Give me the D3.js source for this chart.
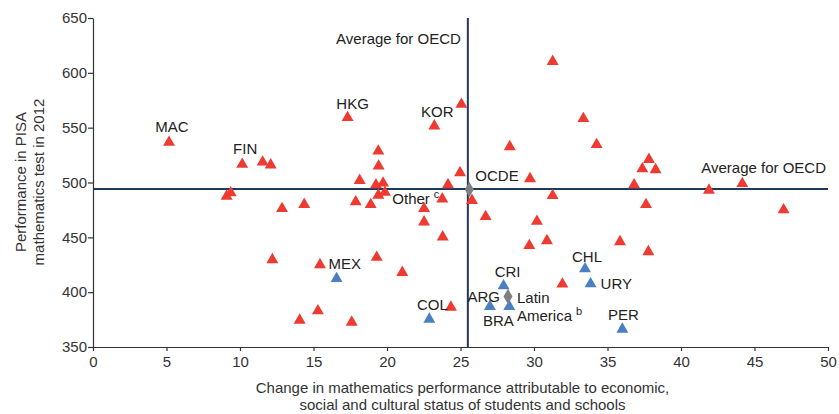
<!DOCTYPE html>
<html><head><meta charset="utf-8">
<script src="https://cdn.jsdelivr.net/npm/d3@7"></script>
<style>
body{margin:0;background:#fff;}
text{font-family:"Liberation Sans",Arial,sans-serif;}
</style></head>
<body><svg id="c" width="839" height="414"></svg>
<script>
// ---- data ----
const xTicks = [0,5,10,15,20,25,30,35,40,45,50];
const yTicks = [350,400,450,500,550,600,650];
const oecdAvgX = 25.5;
const oecdAvgY = 494;

// other economies (red triangles): [name, change, score]
const otherNames = ["MAC","FIN","","","","","","","","","","","HKG","KOR","","","","","","","","","","","","","","","","","","","","","","","","","","","","","","","","","","","","","","","","","",""];
const otherX = [5.17,10.15,11.54,12.09,9.09,9.37,12.86,14.37,12.2,15.44,15.3,14.06,17.32,23.22,25.06,31.27,28.35,19.41,19.43,24.97,29.73,18.14,19.25,19.73,24.15,19.41,19.86,17.87,18.89,23.76,25.78,31.27,22.52,26.71,22.52,30.2,23.79,29.68,30.88,19.3,21.04,31.93,24.35,17.6,33.36,34.26,37.82,37.37,38.27,36.81,41.9,44.17,37.62,46.98,35.85,37.78];
const otherY = [536.6,516.5,518.6,516,487.5,490.5,476.2,480,429.6,425,383,374.4,559.2,551.5,571.3,610.4,532.6,528.6,514.9,508.9,503.4,501.8,497.9,499.4,498,488.4,491,482.3,479.9,485,483.6,488,476.2,468.9,464,464.6,450.3,442.4,446.9,431.7,418,407.4,386.3,372.6,558.3,534.5,521,512.5,511.6,497.9,493,499,479.9,475,446,436.9];

// Latin American countries (blue triangles)
const latNames = ["MEX","COL","CRI","ARG","BRA","CHL","URY","PER"];
const latX = [16.57,22.88,27.93,27.0,28.32,33.47,33.85,36.01];
const latY = [412.4,375.3,405.8,386.9,386.9,421.3,407.6,366.2];

// group averages (grey diamonds)
const avgNames = ["Other","OCDE","Latin America"];
const avgX = [19.41,25.6,28.23];
const avgY = [488.4,493.6,396];

// ---- layout ----
const svg = d3.select("#c");
const m = {l:93, r:11, t:18, b:67};
const W = 839, H = 414;
const x = d3.scaleLinear().domain([0,50]).range([m.l, W-m.r]);
const y = d3.scaleLinear().domain([350,650]).range([H-m.b, m.t]);

const red = "#EE3A30", blue = "#4A7FC1", grey = "#7F7F7F", navy = "#1F3A60", axisCol = "#333";
const FONT = "Liberation Sans, Arial, sans-serif";

// axes
const gx = svg.append("g").attr("transform",`translate(0,${y(350)})`)
  .call(d3.axisBottom(x).tickValues(xTicks).tickSize(4).tickPadding(5).tickSizeOuter(0).tickFormat(d3.format("d")));
const gy = svg.append("g").attr("transform",`translate(${x(0)},0)`)
  .call(d3.axisLeft(y).tickValues(yTicks).tickSize(5).tickPadding(1).tickSizeOuter(0).tickFormat(d3.format("d")));
[gx,gy].forEach(g=>{
  g.selectAll("path,line").attr("stroke",axisCol).attr("stroke-width",1.2);
  g.selectAll("text").attr("fill","#333").style("font-size","15px").style("font-family",FONT);
});

// average lines
svg.append("line").attr("x1",x(0)).attr("x2",x(50)).attr("y1",y(oecdAvgY)).attr("y2",y(oecdAvgY))
  .attr("stroke",navy).attr("stroke-width",2);
svg.append("line").attr("x1",x(oecdAvgX)).attr("x2",x(oecdAvgX)).attr("y1",y(650)).attr("y2",y(350))
  .attr("stroke",navy).attr("stroke-width",2);

const tri = d3.symbol(d3.symbolTriangle, 62);
const dia = d3.symbol(d3.symbolDiamond, 70);
const diaSmall = d3.symbol(d3.symbolDiamond, 12);

// "Other" average diamond: hidden beneath the cluster of triangles
svg.append("path").attr("d",diaSmall).attr("fill",grey)
  .attr("transform",`translate(${x(avgX[0])},${y(avgY[0])})`);

svg.append("g").selectAll("path").data(otherX).join("path")
  .attr("d",tri).attr("fill",red)
  .attr("transform",(d,i)=>`translate(${x(otherX[i])},${y(otherY[i])})`);

svg.append("g").selectAll("path").data(latX).join("path")
  .attr("d",tri).attr("fill",blue)
  .attr("transform",(d,i)=>`translate(${x(latX[i])},${y(latY[i])})`);

svg.append("g").selectAll("path").data(avgNames.slice(1)).join("path")
  .attr("d",dia).attr("fill",grey)
  .attr("transform",(d,i)=>`translate(${x(avgX[i+1])},${y(avgY[i+1])})`);

// labels
const fs = "15px", tc = "#222";
function label(px,py,txt,anchor,sup){
  const t = svg.append("text").attr("x",px).attr("y",py).attr("text-anchor",anchor)
    .attr("fill",tc).style("font-size",fs).text(txt);
  if(sup){ t.append("tspan").attr("dx","4").attr("dy","-6").style("font-size","11px").text(sup); }
  return t;
}
const labelOff = {
  MAC:[3,-10,"middle"], FIN:[3,-10,"middle"], HKG:[5,-9,"middle"], KOR:[3,-9,"middle"],
  MEX:[-8,-10,"start"], COL:[3,-9,"middle"], CRI:[4,-9,"middle"], ARG:[10,-5,"end"],
  BRA:[-11,19,"middle"], CHL:[2,-7,"middle"], URY:[10,5,"start"], PER:[1,-9,"middle"]
};
otherNames.forEach((n,i)=>{ if(n){ const o=labelOff[n]; label(x(otherX[i])+o[0], y(otherY[i])+o[1], n, o[2]); }});
latNames.forEach((n,i)=>{ const o=labelOff[n]; label(x(latX[i])+o[0], y(latY[i])+o[1], n, o[2]); });

label(x(avgX[1])+6, y(avgY[1])-9, "OCDE", "start");
label(x(avgX[0])+14, y(avgY[0])+9, "Other", "start", "c");
label(x(avgX[2])+9, y(avgY[2])+6, "Latin", "start");
label(x(avgX[2])+9, y(avgY[2])+24, "America", "start", "b");

label(x(oecdAvgX)-7, y(626), "Average for OECD", "end");
label(x(50)-2, y(oecdAvgY)-16, "Average for OECD", "end");

// axis titles
const yt = svg.append("text").attr("transform",`translate(26,182) rotate(-90)`)
  .attr("text-anchor","middle").attr("fill","#333").style("font-size","15px");
yt.append("tspan").attr("x",0).attr("dy",0).text("Performance in PISA");
yt.append("tspan").attr("x",0).attr("dy",18).text("mathematics test in 2012");
const xt = svg.append("text").attr("text-anchor","middle").attr("fill","#333").style("font-size","15px");
xt.append("tspan").attr("x",x(25)+2).attr("y",393).text("Change in mathematics performance attributable to economic,");
xt.append("tspan").attr("x",x(25)+2).attr("y",410).text("social and cultural status of students and schools");
</script></body></html>
